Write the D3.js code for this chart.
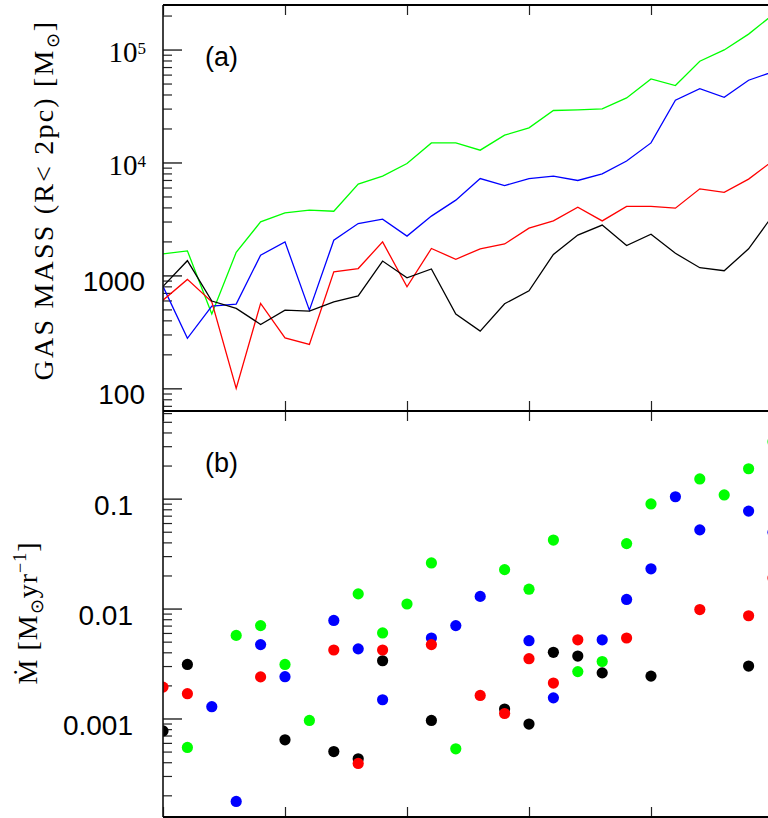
<!DOCTYPE html>
<html>
<head>
<meta charset="utf-8">
<script src="https://cdn.jsdelivr.net/npm/d3@7"></script>
<style>
body { margin: 0; background: #fff; }
svg { display: block; }
.tick line { stroke: #222; }
.domain { display: none; }
</style>
</head>
<body>
<div id="chart"></div>
<script>
// snapshot index along the x axis
var snapshots = [0, 1, 2, 3, 4, 5, 6, 7, 8, 9, 10, 11, 12, 13, 14, 15, 16, 17, 18, 19, 20, 21, 22, 23, 24, 25];

// (a) gas mass inside 2pc, Msun
var massGreen = [1550, 1650, 455, 1600, 2980, 3580, 3780, 3700, 6430, 7560, 9800, 14900, 14900, 12850, 17450, 20250, 28850, 29200, 29800, 37300, 54900, 48000, 78800, 99200, 137000, 204000];
var massBlue = [800, 277, 535, 557, 1510, 1980, 493, 2050, 2880, 3150, 2230, 3350, 4640, 7210, 6250, 7210, 7560, 6930, 7930, 10300, 14900, 35600, 45100, 37800, 53500, 63500];
var massRed = [604, 922, 584, 100, 565, 280, 245, 1075, 1150, 1980, 793, 1730, 1390, 1720, 1900, 2620, 3040, 4020, 3040, 4080, 4080, 3940, 5840, 5430, 7120, 10350];
var massBlack = [800, 1350, 593, 511, 368, 493, 483, 584, 659, 1340, 952, 1140, 455, 321, 561, 731, 1535, 2275, 2790, 1840, 2320, 1570, 1170, 1100, 1720, 3420];

// (b) accretion rate, Msun/yr (null = no point)
var mdotBlack = [7.7e-4, 3.1e-3, null, null, null, 6.4e-4, null, 5.0e-4, 4.3e-4, 3.35e-3, null, 9.6e-4, null, null, 1.22e-3, 8.9e-4, 4.0e-3, 3.7e-3, 2.6e-3, null, 2.43e-3, null, null, null, 3.0e-3, null];
var mdotGreen = [null, 5.45e-4, null, 5.7e-3, 7.0e-3, 3.1e-3, 9.6e-4, null, 1.36e-2, 6.0e-3, 1.1e-2, 2.6e-2, 5.3e-4, null, 2.26e-2, 1.5e-2, 4.2e-2, 2.67e-3, 3.3e-3, 3.9e-2, 8.95e-2, null, 0.151, 0.108, 0.187, 0.33];
var mdotBlue = [null, null, 1.28e-3, 1.76e-4, 4.7e-3, 2.4e-3, null, 7.8e-3, 4.3e-3, 1.48e-3, null, 5.4e-3, 7.0e-3, 1.29e-2, null, 5.1e-3, 1.54e-3, null, 5.2e-3, 1.21e-2, 2.3e-2, 0.104, 5.2e-2, null, 7.7e-2, 4.95e-2];
var mdotRed = [1.93e-3, 1.68e-3, null, null, 2.39e-3, null, null, 4.2e-3, 3.9e-4, 4.2e-3, null, 4.7e-3, null, 1.62e-3, 1.11e-3, 3.5e-3, 2.1e-3, 5.2e-3, null, 5.4e-3, null, null, 9.8e-3, null, 8.6e-3, 1.9e-2];

var xMajorTicks = [0, 5, 10, 15, 20, 25];
var massMajorTicks = [100, 1000, 10000, 100000];
var mdotMajorTicks = [0.001, 0.01, 0.1];

var width = 768, height = 818;
var plotLeft = 163, plotRight = 773, plotTop = 5, plotMid = 411, plotBottom = 817;

var svg = d3.select("#chart").append("svg")
	.attr("width", width)
	.attr("height", height);

var xScale = d3.scaleLinear().domain([0, 25]).range([plotLeft, plotRight]);
var yMass = d3.scaleLog().domain([63, 2.48e5]).range([plotMid, plotTop]);
var yMdot = d3.scaleLog().domain([1.27e-4, 0.627]).range([plotBottom, plotMid]);

// clip areas for both panels
var defs = svg.append("defs");
defs.append("clipPath").attr("id", "clipA")
	.append("rect").attr("x", plotLeft).attr("y", plotTop)
	.attr("width", plotRight - plotLeft).attr("height", plotMid - plotTop);
defs.append("clipPath").attr("id", "clipB")
	.append("rect").attr("x", plotLeft).attr("y", plotMid)
	.attr("width", plotRight - plotLeft).attr("height", plotBottom - plotMid);

function drawYAxis(scale, majors) {
	var minors = scale.ticks().filter(function(v) { return majors.indexOf(v) < 0; });
	[plotLeft, plotRight].forEach(function(xpos) {
		var dir = xpos == plotLeft ? -1 : 1;
		var make = xpos == plotLeft ? d3.axisLeft : d3.axisRight;
		svg.append("g")
			.attr("transform", "translate(" + xpos + ",0)")
			.call(make(scale).tickValues(minors).tickSize(9 * dir).tickFormat(""))
			.selectAll(".tick line").attr("stroke-width", 1.2).attr("stroke", "#444");
		svg.append("g")
			.attr("transform", "translate(" + xpos + ",0)")
			.call(make(scale).tickValues(majors).tickSize(19 * dir).tickFormat(""))
			.selectAll(".tick line").attr("stroke-width", 1.4).attr("stroke", "#222");
	});
}

function drawXTicks(y0, y1) {
	svg.append("g")
		.attr("transform", "translate(0," + y0 + ")")
		.call(d3.axisBottom(xScale).tickValues(xMajorTicks).tickSize(-10).tickFormat(""))
		.selectAll(".tick line").attr("stroke-width", 1.2);
	svg.append("g")
		.attr("transform", "translate(0," + y1 + ")")
		.call(d3.axisTop(xScale).tickValues(xMajorTicks).tickSize(-10).tickFormat(""))
		.selectAll(".tick line").attr("stroke-width", 1.2);
}

drawYAxis(yMass, massMajorTicks);
drawYAxis(yMdot, mdotMajorTicks);
drawXTicks(plotMid, plotTop);
drawXTicks(plotBottom, plotMid);

// (a) lines
var massSeries = [
	{values: massGreen, color: "#00ff00"},
	{values: massBlue, color: "#0000ff"},
	{values: massRed, color: "#ff0000"},
	{values: massBlack, color: "#000000"}
];
var line = d3.line()
	.x(function(d, i) { return xScale(snapshots[i]); })
	.y(function(d) { return yMass(d); });

svg.append("g")
	.attr("clip-path", "url(#clipA)")
	.selectAll("path")
	.data(massSeries)
	.enter()
	.append("path")
	.attr("d", function(d) { return line(d.values); })
	.attr("fill", "none")
	.attr("stroke", function(d) { return d.color; })
	.attr("stroke-width", 1.3);

// (b) points
var mdotSeries = [
	{values: mdotBlack, color: "#000000"},
	{values: mdotGreen, color: "#00ff00"},
	{values: mdotBlue, color: "#0000ff"},
	{values: mdotRed, color: "#ff0000"}
];
var pts = svg.append("g").attr("clip-path", "url(#clipB)");
mdotSeries.forEach(function(s) {
	var data = s.values.map(function(v, i) { return {x: snapshots[i], y: v}; })
		.filter(function(d) { return d.y != null; });
	pts.append("g").selectAll("circle")
		.data(data)
		.enter()
		.append("circle")
		.attr("cx", function(d) { return xScale(d.x); })
		.attr("cy", function(d) { return yMdot(d.y); })
		.attr("r", 5.6)
		.attr("fill", s.color);
});

// frame
svg.append("line").attr("x1", plotLeft).attr("x2", plotLeft).attr("y1", plotTop).attr("y2", plotBottom)
	.attr("stroke", "#111").attr("stroke-width", 1.6);
svg.append("line").attr("x1", plotLeft).attr("x2", plotRight).attr("y1", plotTop).attr("y2", plotTop)
	.attr("stroke", "#000").attr("stroke-width", 2);
svg.append("line").attr("x1", plotLeft).attr("x2", plotRight).attr("y1", plotMid).attr("y2", plotMid)
	.attr("stroke", "#000").attr("stroke-width", 2.2);
svg.append("line").attr("x1", plotLeft).attr("x2", plotRight).attr("y1", plotBottom).attr("y2", plotBottom)
	.attr("stroke", "#000").attr("stroke-width", 2);

// tick labels
var sans = "'Liberation Sans', Arial, sans-serif";
var serif = "'Liberation Serif', 'Times New Roman', serif";

massMajorTicks.forEach(function(v) {
	var y = yMass(v);
	if (v >= 10000) {
		var t = svg.append("text")
			.attr("x", 146).attr("y", y + 12.5)
			.attr("text-anchor", "end")
			.style("font-family", serif).style("font-size", "29px");
		t.append("tspan").text("10");
		t.append("tspan").attr("dy", -8).style("font-size", "17px").text(Math.round(Math.log10(v)));
	} else {
		svg.append("text")
			.attr("x", 145).attr("y", y + 16)
			.attr("text-anchor", "end")
			.style("font-family", sans).style("font-size", "28px")
			.text(v);
	}
});

mdotMajorTicks.forEach(function(v) {
	svg.append("text")
		.attr("x", 133).attr("y", yMdot(v) + 16.5)
		.attr("text-anchor", "end")
		.style("font-family", sans).style("font-size", "28px")
		.text(String(v));
});

// panel labels
svg.append("text").attr("x", 205).attr("y", 66)
	.style("font-family", sans).style("font-size", "27px").text("(a)");
svg.append("text").attr("x", 205).attr("y", 472)
	.style("font-family", sans).style("font-size", "27px").text("(b)");

// axis titles
var titleA = svg.append("text")
	.attr("transform", "translate(53,200) rotate(-90)")
	.attr("text-anchor", "middle")
	.style("font-family", serif).style("font-size", "28px")
	.style("letter-spacing", "2.2px");
titleA.append("tspan").text("GAS MASS (R< 2pc) [M");
titleA.append("tspan").attr("dy", 6).style("font-size", "18px").text("\u2299");
titleA.append("tspan").attr("dy", -6).text("]");

var titleB = svg.append("text")
	.attr("transform", "translate(37,613) rotate(-90)")
	.attr("text-anchor", "middle")
	.style("font-family", serif).style("font-size", "28px")
	.style("letter-spacing", "1px");
titleB.append("tspan").text("\u1E40 [M");
titleB.append("tspan").attr("dy", 6).style("font-size", "18px").text("\u2299");
titleB.append("tspan").attr("dy", -6).text("yr");
titleB.append("tspan").attr("dy", -11).style("font-size", "18px").text("\u22121");
titleB.append("tspan").attr("dy", 11).text("]");
</script>
</body>
</html>
